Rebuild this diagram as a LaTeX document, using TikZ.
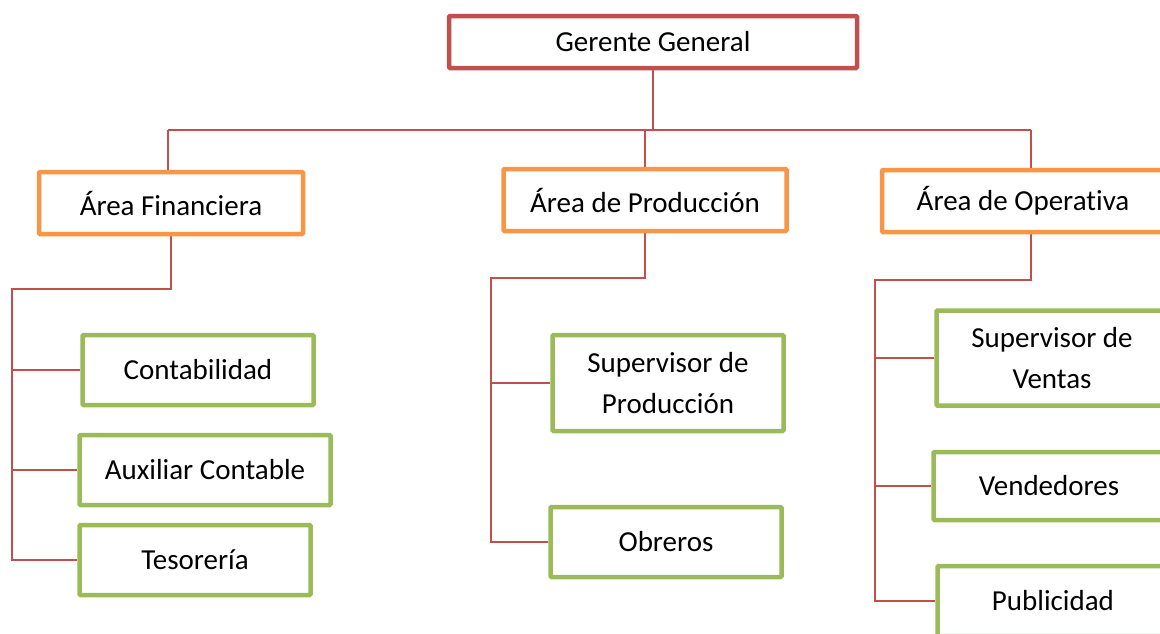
\documentclass[tikz,border=0pt]{standalone}
\usepackage{fontspec}
\setmainfont{Carlito}[Ligatures=NoCommon]
\usetikzlibrary{backgrounds}
\definecolor{rojoG}{HTML}{C0504D}
\definecolor{naranjaA}{HTML}{F79646}
\definecolor{verdeP}{HTML}{9BBB59}

\begin{document}
\begin{tikzpicture}[x=1pt, y=-1pt]
\tikzset{ caja/.style={draw, line width=4.5pt, rounded corners=1pt, inner sep=0pt, fill=white,
                       align=center, font=\fontsize{29}{41}\selectfont},
          gerente/.style={caja, draw=rojoG, minimum width=408pt, minimum height=52pt},
          area/.style={caja, draw=naranjaA, minimum height=62pt},
          puesto/.style={caja, draw=verdeP, minimum width=231pt, minimum height=70pt},
          rama/.style={draw=rojoG, line width=1.5pt},
}

\useasboundingbox (0,0) rectangle (1160,633);
\clip (0,0) rectangle (1160,633);
%\draw [lightgray, dashed] (0,0) grid[step=50] (1160,633);

\node [gerente] (GG) at (653,42) {Gerente General};

\node [area, minimum width=264pt] (AF) at (171,203) {Área Financiera};
\node [area, minimum width=283pt] (AP) at (645,200) {Área de Producción};
\node [area, minimum width=282pt] (AO) at (1023,201) {Área de Operativa};

\node [puesto] (CO) at (198,370) {Contabilidad};
\node [puesto, minimum width=251pt] (AC) at (205,470) {Auxiliar Contable};
\node [puesto] (TE) at (195,560) {Tesorería};

\node [puesto, minimum height=96pt] (SP) at (668,383) {Supervisor de\\Producción};
\node [puesto] (OB) at (666,542) {Obreros};

\node [puesto, minimum height=95pt] (SV) at (1052,358) {Supervisor de\\Ventas};
\node [puesto, minimum height=68pt] (VE) at (1049,486) {Vendedores};
\node [puesto] (PU) at (1053,601) {Publicidad};

\coordinate (busL) at (168,130);
\coordinate (busR) at (1031,130);
\coordinate (finL) at (12,289);
\coordinate (proL) at (491,278);
\coordinate (opeL) at (875,280);

\begin{scope}[on background layer]
\draw [rama] (GG.south) -- (GG.south |- busL);
\draw [rama] (busL) -- (busR);
\draw [rama] (busL) -- (busL |- AF.north);
\draw [rama] (AP.north) -- (AP.north |- busL);
\draw [rama] (busR) -- (busR |- AO.north);

\draw [rama] (AF.south) |- (finL) -- (finL |- TE.west) -- (TE.west);
\draw [rama] (finL |- CO.west) -- (CO.west);
\draw [rama] (finL |- AC.west) -- (AC.west);

\draw [rama] (AP.south) |- (proL) -- (proL |- OB.west) -- (OB.west);
\draw [rama] (proL |- SP.west) -- (SP.west);

\draw [rama] (busR |- AO.south) |- (opeL) -- (opeL |- PU.west) -- (PU.west);
\draw [rama] (opeL |- SV.west) -- (SV.west);
\draw [rama] (opeL |- VE.west) -- (VE.west);
\end{scope}
\end{tikzpicture}
\end{document}
